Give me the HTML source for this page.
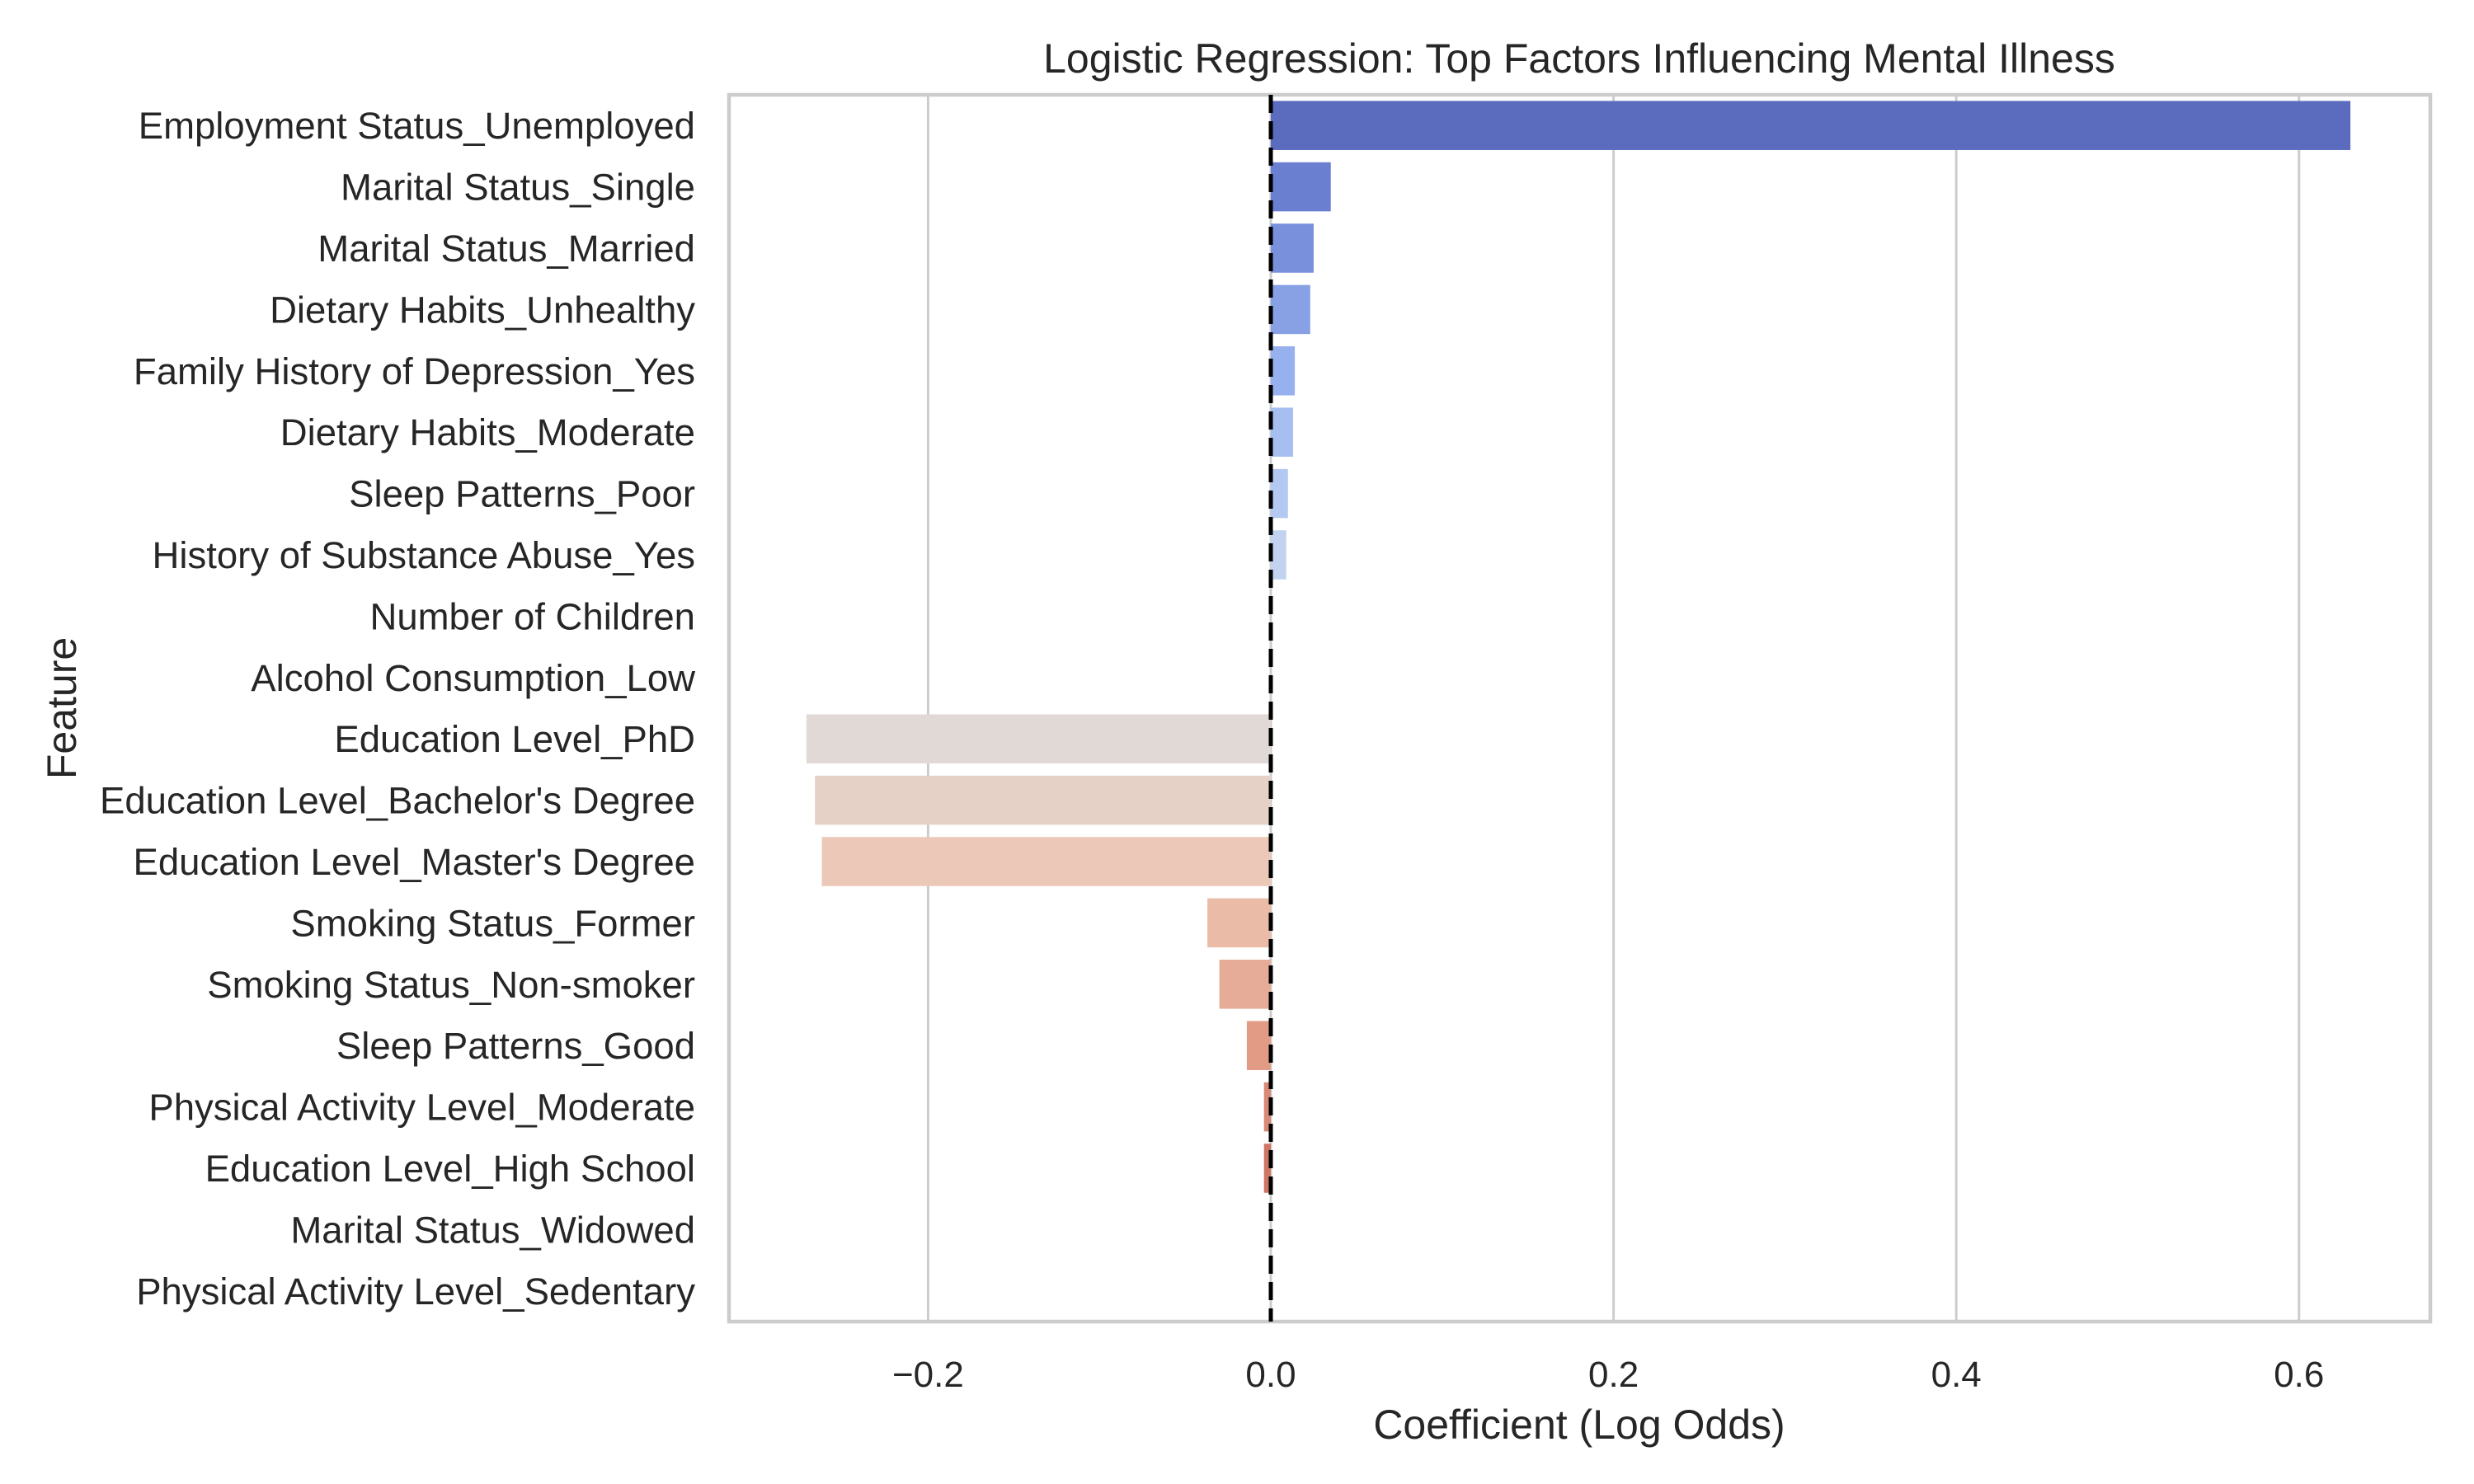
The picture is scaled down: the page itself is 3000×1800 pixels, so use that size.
<!DOCTYPE html>
<html><head><meta charset="utf-8"><style>
html,body{margin:0;padding:0;background:#fff;}
svg{display:block;font-family:"Liberation Sans",Arial,sans-serif;}
</style></head><body>
<svg id="chart" width="3000" height="1800" viewBox="0 0 3000 1800">
<rect width="3000" height="1800" fill="#fff"/>
<g id="grid"></g>
<g id="bars"></g>
<g id="ylabels"></g>
<g id="xlabels"></g>
<rect x="884" y="115" width="2063" height="1488" fill="none" stroke="#cccccc" stroke-width="4.5"/>
<line id="zeroline" y1="115" y2="1603" stroke="#000" stroke-width="5" stroke-dasharray="22,10"/>
<text x="1915" y="88" font-size="50" fill="#262626" text-anchor="middle">Logistic Regression: Top Factors Influencing Mental Illness</text>
<text x="1915" y="1745" font-size="50" fill="#262626" text-anchor="middle">Coefficient (Log Odds)</text>
<text x="0" y="0" font-size="50" fill="#262626" text-anchor="middle" transform="translate(92,859) rotate(-90)">Feature</text>
</svg>
<script>
const categories = ["Employment Status_Unemployed","Marital Status_Single","Marital Status_Married","Dietary Habits_Unhealthy","Family History of Depression_Yes","Dietary Habits_Moderate","Sleep Patterns_Poor","History of Substance Abuse_Yes","Number of Children","Alcohol Consumption_Low","Education Level_PhD","Education Level_Bachelor's Degree","Education Level_Master's Degree","Smoking Status_Former","Smoking Status_Non-smoker","Sleep Patterns_Good","Physical Activity Level_Moderate","Education Level_High School","Marital Status_Widowed","Physical Activity Level_Sedentary"];
const coefficients = [0.630,0.035,0.025,0.023,0.014,0.013,0.010,0.009,0.0,0.0,-0.271,-0.266,-0.262,-0.037,-0.030,-0.014,-0.004,-0.004,0.0,0.0];
const xTicks = [-0.2,0.0,0.2,0.4,0.6];
const xTickLabels = ["\u22120.2","0.0","0.2","0.4","0.6"];

const NS="http://www.w3.org/2000/svg";
const plotL=884, plotR=2947, plotT=115, plotB=1603;
const x0px=1541, pxPerUnit=2078;
function xScale(v){return x0px+v*pxPerUnit;}
const band=(plotB-plotT)/categories.length;
function yScale(i){return plotT+band*(i+0.5);}

const stops=[[59,76,192],[98,130,234],[141,176,254],[184,208,249],[221,221,221],[245,196,173],[244,154,123],[222,96,77],[180,4,38]];
function coolwarm(t){const p=t*8,i=Math.min(7,Math.floor(p)),f=p-i;return stops[i].map((c,k)=>c+(stops[i+1][k]-c)*f);}
function desat(rgb,s){let [r,g,b]=rgb.map(v=>v/255);const mx=Math.max(r,g,b),mn=Math.min(r,g,b);let h=0,sat=0,l=(mx+mn)/2;
 if(mx!==mn){const d=mx-mn;sat=l>0.5?d/(2-mx-mn):d/(mx+mn);
  if(mx===r)h=(g-b)/d+(g<b?6:0);else if(mx===g)h=(b-r)/d+2;else h=(r-g)/d+4;h/=6;}
 sat*=s;
 function hue(p,q,t){if(t<0)t+=1;if(t>1)t-=1;if(t<1/6)return p+(q-p)*6*t;if(t<1/2)return q;if(t<2/3)return p+(q-p)*(2/3-t)*6;return p;}
 let R,G,B;if(sat===0){R=G=B=l;}else{const q=l<0.5?l*(1+sat):l+sat-l*sat,p=2*l-q;R=hue(p,q,h+1/3);G=hue(p,q,h);B=hue(p,q,h-1/3);}
 return `rgb(${Math.round(R*255)},${Math.round(G*255)},${Math.round(B*255)})`;}

const grid=document.getElementById('grid');
const xl=document.getElementById('xlabels');
xTicks.forEach((t,i)=>{
  const gl=document.createElementNS(NS,'line');
  gl.setAttribute('x1',xScale(t));gl.setAttribute('x2',xScale(t));
  gl.setAttribute('y1',plotT);gl.setAttribute('y2',plotB);
  gl.setAttribute('stroke','#cccccc');gl.setAttribute('stroke-width','3');
  
  
  grid.appendChild(gl);
  const tx=document.createElementNS(NS,'text');
  tx.setAttribute('x',xScale(t));tx.setAttribute('y',1682);
  tx.setAttribute('font-size','44');tx.setAttribute('fill','#262626');tx.setAttribute('text-anchor','middle');
  tx.textContent=xTickLabels[i];
  
  
  xl.appendChild(tx);
});

const bars=document.getElementById('bars');
const yl=document.getElementById('ylabels');
const n=categories.length;
categories.forEach((c,i)=>{
  const v=coefficients[i];
  const t=(i+1)/(n+1);
  const r=document.createElementNS(NS,'rect');
  const xa=xScale(Math.min(0,v)), xb=xScale(Math.max(0,v));
  r.setAttribute('x',xa);r.setAttribute('width',Math.max(0,xb-xa));
  r.setAttribute('y',yScale(i)-band*0.4);r.setAttribute('height',band*0.8);
  r.setAttribute('fill',desat(coolwarm(t),0.75));
  
  
  bars.appendChild(r);
  const tx=document.createElementNS(NS,'text');
  tx.setAttribute('x',843);tx.setAttribute('y',yScale(i)+16);
  tx.setAttribute('font-size','45.5');tx.setAttribute('fill','#262626');tx.setAttribute('text-anchor','end');
  tx.textContent=c;
  
  
  yl.appendChild(tx);
});
const z=document.getElementById('zeroline');
z.setAttribute('x1',xScale(0));z.setAttribute('x2',xScale(0));
</script>
</body></html>
